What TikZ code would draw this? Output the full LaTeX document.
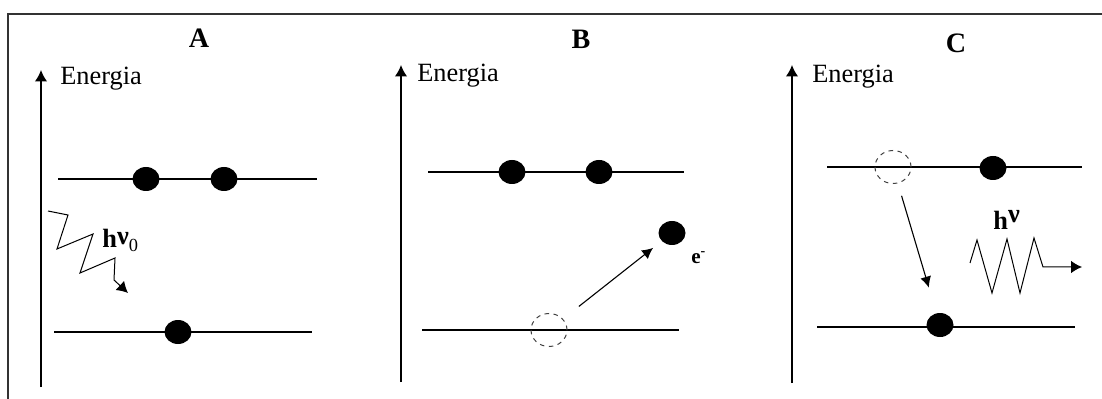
\documentclass[tikz,border=0pt]{standalone}
\usepackage{fontspec}
\setmainfont{Liberation Serif}
\usetikzlibrary{arrows.meta,shapes.geometric}

\tikzset{
  level/.style={line width=0.28mm},
  axis/.style={line width=0.28mm, -{Latex[length=2.3mm,width=2.5mm]}},
  jump/.style={line width=0.22mm, -{Latex[length=2.2mm,width=2.2mm]}},
  photon/.style={line width=0.2mm, -{Latex[length=2.2mm,width=2.5mm]}},
  electron/.style={ellipse, fill=black, inner sep=0pt,
    minimum width=5.4mm, minimum height=4.8mm},
  hole/.style={ellipse, draw=black!75, line width=0.2mm,
    dash pattern=on 0.9mm off 0.9mm, inner sep=0pt,
    minimum width=7.2mm, minimum height=6.6mm},
  energy/.style={anchor=base west, inner sep=0pt,
    font=\fontsize{15}{15}\selectfont},
  panel/.style={font=\fontsize{16}{16}\selectfont\bfseries},
  quantum/.style={anchor=base west, inner sep=0pt,
    font=\fontsize{15}{15}\selectfont\bfseries},
}

\begin{document}
\begin{tikzpicture}[x=0.2mm, y=-0.2mm]
  \useasboundingbox (0,0) rectangle (1102,399);
  % frame
  \draw[line width=0.35mm, black!80] (8,399) -- (8,14) -- (1102,14);

  % A: absorption
  \node[panel] (titleA) at (199,38) {A};
  \coordinate (axA0) at (41,387);
  \coordinate (axA1) at (41,70);
  \draw[axis] (axA0) -- (axA1);
  \node[energy] (enA) at (60,85) {Energia};
  \draw[level] (58,179) -- (317,179);
  \draw[level] (54,332) -- (312,332);
  \node[electron] (eA1) at (146,179) {};
  \node[electron] (eA2) at (224,179) {};
  \node[electron] (eA3) at (178,332) {};
  \draw[photon] (48,211) -- (68,215) -- (57,249) -- (93,234) -- (80,273)
    -- (115,258) -- (114,280) -- (128,293);
  \node[quantum] (hnuA) at (102,248)
    {h\raisebox{0.25ex}{ν}{\mdseries\textsubscript{0}}};

  % B: ionisation
  \node[panel] (titleB) at (581,39) {B};
  \coordinate (axB0) at (401,382);
  \coordinate (axB1) at (401,65);
  \draw[axis] (axB0) -- (axB1);
  \node[energy] (enB) at (417,82) {Energia};
  \draw[level] (428,172) -- (684,172);
  \draw[level] (422,330) -- (679,330);
  \node[electron] (eB1) at (512,172) {};
  \node[electron] (eB2) at (599,172) {};
  \node[hole] (hB) at (549,330) {};
  \node[electron] (eB3) at (672,233) {};
  \node[anchor=base west, inner sep=0pt,
    font=\fontsize{12}{12}\selectfont\bfseries] (elB) at (691,263)
    {e\textsuperscript{-}};
  \draw[jump, shorten <=7.6mm, shorten >=4.8mm] (hB.center) -- (eB3.center);

  % C: emission
  \node[panel] (titleC) at (956,43) {C};
  \coordinate (axC0) at (792,383);
  \coordinate (axC1) at (792,65);
  \draw[axis] (axC0) -- (axC1);
  \node[energy] (enC) at (812,83) {Energia};
  \draw[level] (827,167) -- (1082,167);
  \draw[level] (817,327) -- (1075,327);
  \node[hole] (hC) at (893,167) {};
  \node[electron] (eC1) at (993,168) {};
  \node[electron] (eC2) at (940,325) {};
  \draw[jump, shorten <=6mm, shorten >=7.8mm] (hC.center) -- (eC2.center);
  \node[quantum] (hnuC) at (993,230) {h\raisebox{0.6ex}{ν}};
  \draw[photon] (970,263) -- (977,240) -- (992,293) -- (1007,239) -- (1020,293)
    -- (1034,238) -- (1043,267) -- (1082,267);
\end{tikzpicture}
\end{document}
